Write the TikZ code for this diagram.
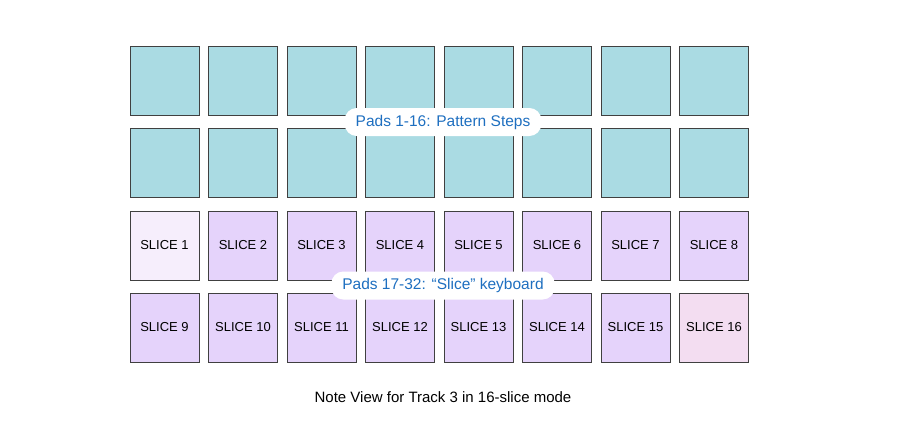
\documentclass[tikz,border=0pt]{standalone}
\usepackage{fontspec}
\setmainfont{Liberation Sans}
\definecolor{stepcol}{HTML}{AADBE3}
\definecolor{slicecol}{HTML}{E5D3FB}
\definecolor{firstcol}{HTML}{F6EEFC}
\definecolor{lastcol}{HTML}{F3DDF1}
\definecolor{labelblue}{HTML}{1E6FC0}
\tikzstyle{pad}=[draw=black!75,minimum size=69pt,inner sep=0pt,font=\fontsize{13}{15}\selectfont]
\tikzstyle{tag}=[fill=white,rounded corners=12pt,text=labelblue,minimum height=28pt,inner xsep=11pt,font=\fontsize{15.5}{18}\selectfont]

\begin{document}
\begin{tikzpicture}[x=1pt,y=-1pt]
			\useasboundingbox (0,0) rectangle (898,442);
			\foreach \i in {1,...,8} {
				\node[pad,fill=stepcol] (s\i)  at ({164.5+78.5*(\i-1)},80.5)  {};
				\node[pad,fill=stepcol] (t\i)  at ({164.5+78.5*(\i-1)},162.5) {};
			}
			\foreach \i in {1,...,8} {
				\pgfmathtruncatemacro{\j}{\i+8}
				\node[pad,fill=slicecol] (a\i) at ({164.5+78.5*(\i-1)},245.5) {SLICE \i};
				\node[pad,fill=slicecol] (b\i) at ({164.5+78.5*(\i-1)},327.5) {SLICE \j};
			}
			\node[pad,fill=firstcol] at (a1) {SLICE 1};
			\node[pad,fill=lastcol]  at (b8) {SLICE 16};
			\node[tag] (steps)  at (443,122) {Pads 1-16: Pattern Steps};
			\node[tag] (slices) at (443,285.5) {Pads 17-32: “Slice” keyboard};
			\node[font=\fontsize{15}{18}\selectfont] (caption) at (443,397) {Note View for Track 3 in 16-slice mode};
		\end{tikzpicture}
\end{document}
